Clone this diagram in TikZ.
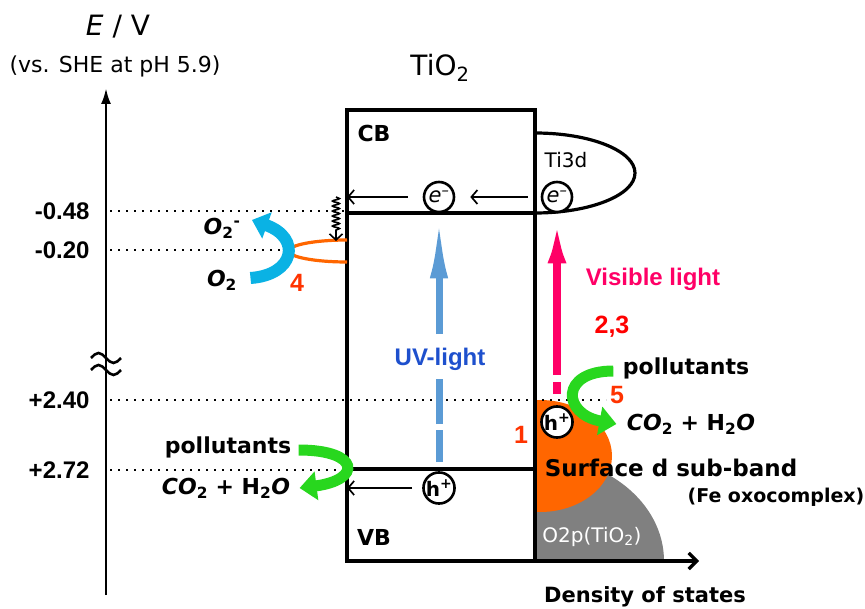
\documentclass[tikz,border=0pt]{standalone}
\usepackage{fontspec}
\setmainfont{DejaVu Sans}
\newfontfamily\arialfont{Liberation Sans}
\usepackage{tikz}
\usetikzlibrary{arrows.meta,calc,positioning,decorations.pathmorphing}
\definecolor{dosorange}{RGB}{255,102,0}
\definecolor{dosgray}{RGB}{128,128,128}
\definecolor{polgreen}{RGB}{40,215,30}
\definecolor{oxblue}{RGB}{10,178,228}
\definecolor{vispink}{RGB}{255,0,102}
\definecolor{uvblue}{RGB}{91,155,213}
\definecolor{uvtext}{RGB}{30,80,205}
\definecolor{numred}{RGB}{255,51,0}
\newcommand{\fsz}[1]{\fontsize{#1}{#1}\selectfont}

\begin{document}
\begin{tikzpicture}[x=1pt,y=-1pt,>=Latex,
  band/.style={line width=3.2pt},
  level/.style={line width=2.4pt,dash pattern=on 2.4pt off 5.6pt},
  lvlab/.style={anchor=east,font=\arialfont\bfseries\fsz{24}},
  carrier/.style={circle,draw,fill=white,line width=2.6pt,inner sep=0pt,minimum size=30pt},
  flow/.style={line width=1.7pt,-{Straight Barb[length=6pt,width=14pt]}},
  comic/.style={font=\bfseries\fsz{22}},
  num/.style={text=numred,font=\arialfont\bfseries\fsz{25}},
  greenarrow/.style={polgreen,line width=11pt,-{Triangle[length=17pt,width=28pt]}}]
  \useasboundingbox (0,0) rectangle (865,609);

  \fill[dosgray] (535,561) -- (664,561) arc[start angle=0,end angle=90,x radius=129pt,y radius=105pt] -- cycle;
  \begin{scope}
    \clip (535,380) rectangle (700,561);
    \fill[dosorange] (540,456) ellipse[x radius=72pt,y radius=56pt];
  \end{scope}

  \draw[line width=2.6pt,-{Latex[length=16pt,width=10pt]}] (106,595) -- (106,88);
  \foreach \t in {358,370}
    \draw[line width=2.6pt] (91,\t) sin (98.5,\t-5) cos (106,\t) sin (113.5,\t+5) cos (121,\t);
  \foreach \v/\y/\xe in {-0.48/211/347,-0.20/250/289,+2.40/400/606,+2.72/470/347}{
    \node[lvlab] (lv\y) at (93,\y) {\v};
    \draw[level] (110,\y) -- (\xe,\y);
  }

  \draw[band] (347,110) rectangle (535,561);
  \draw[band] (347,213) -- (535,213) (347,469) -- (535,469);
  \draw[band,-{Straight Barb[length=8pt,width=16pt]}] (535,561) -- (699,561);
  \draw[band] (535,133) arc[start angle=90,end angle=-90,x radius=100pt,y radius=40pt];
  \draw[dosorange,band] (347,240) arc[start angle=90,end angle=270,x radius=58pt,y radius=11pt];

  \node[font=\fsz{28}] (ylab) at (118,27) {{\itshape E}\hspace{9pt}/\hspace{9pt}V};
  \node[font=\fsz{22}] (yref) at (115,66) {(vs. SHE at pH 5.9)};
  \node[font=\fsz{28}] (tio2) at (440,68) {TiO\textsubscript{2}};
  \node[font=\bfseries\fsz{22}] (cb) at (374,133) {CB};
  \node[font=\bfseries\fsz{22}] (vb) at (374,537) {VB};
  \node[font=\fsz{20}] (ti3d) at (566,160) {Ti3d};

  \node[carrier] (eCB) at (439,197) {\fsz{21}\itshape e\textsuperscript{–}};
  \node[carrier] (eTi) at (557,197) {\fsz{21}\itshape e\textsuperscript{–}};
  \node[carrier,minimum size=28pt] (hVB) at (439,488) {\bfseries\fsz{20}h\textsuperscript{+}};
  \node[carrier,minimum size=28pt] (hS) at (557,422) {\bfseries\fsz{20}h\textsuperscript{+}};
  \coordinate (cbL) at (347,197);
  \coordinate (vbL) at (347,488);
  \coordinate (relaxTop) at (336,197);
  \coordinate (oxTop) at (336,241);

  \draw[flow,shorten <=13pt,shorten >=15pt] (eTi) -- (eCB);
  \draw[flow,shorten <=15pt] (eCB) -- (cbL);
  \draw[flow,shorten <=10pt] (hVB) -- (vbL);
  \draw[line width=1.6pt,decorate,decoration={snake,segment length=5pt,amplitude=3.5pt,post length=9pt},
    -{Straight Barb[length=6pt,width=13pt]}] (relaxTop) -- (oxTop);

  \draw[uvblue,line width=7pt,-{Latex[length=62pt,width=18pt]},
    dash pattern=on 32pt off 6pt on 45pt off 45pt on 400pt,shorten <=9pt,shorten >=3pt] (hVB) -- (eCB);
  \draw[vispink,line width=8pt,-{Latex[length=48pt,width=18pt]},
    dash pattern=on 12pt off 7pt on 400pt,shorten <=11pt,shorten >=2pt] (hS) -- (eTi);
  \node[text=uvtext,font=\arialfont\bfseries\fsz{24}] (uvlab) at (440,359) {UV-light};
  \node[text=vispink,font=\arialfont\bfseries\fsz{24}] (vislab) at (653,279) {Visible light};
  \node[num,text=red] (n23) at (612,327) {2,3};
  \node[num] (n1) at (521,435) {1};
  \node[num] (n4) at (297,283) {4};
  \node[num] (n5) at (617,395) {5};

  \node[comic] (O2m) at (222,228) {\textit{O}\textsubscript{2}\textsuperscript{-}};
  \node[comic] (O2) at (222,280) {\textit{O}\textsubscript{2}};
  \draw[oxblue,line width=12pt,-{Triangle[length=16pt,width=27pt]}]
    ($(O2.east)+(10,-2)$) .. controls +(44,-3) and +(50,18) .. ($(O2m.east)+(8,-8)$);

  \node[comic] (polL) at (228,447) {pollutants};
  \node[comic] (prodL) at (226,488) {\textit{CO}\textsubscript{2} + H\textsubscript{2}\textit{O}};
  \draw[greenarrow] ($(polL.east)+(4,3)$) .. controls +(62,0) and +(62,-8) .. ($(prodL.east)+(6,0)$);
  \node[comic] (polR) at (686,368) {pollutants};
  \node[comic] (prodR) at (691,424) {\textit{CO}\textsubscript{2} + H\textsubscript{2}\textit{O}};
  \draw[greenarrow] ($(polR.west)+(-6,3)$) .. controls +(-54,0) and +(-54,-10) .. ($(prodR.west)+(-7,0)$);

  \node[font=\bfseries\fsz{23}] (surf) at (671,468) {Surface d sub-band};
  \node[font=\bfseries\fsz{19}] (fe) at (776,497) {(Fe oxocomplex)};
  \node[text=white,font=\fsz{20}] (o2p) at (592,537) {O2p(TiO\textsubscript{2})};
  \node[font=\bfseries\fsz{21}] (dos) at (645,597) {Density of states};
\end{tikzpicture}
\end{document}
